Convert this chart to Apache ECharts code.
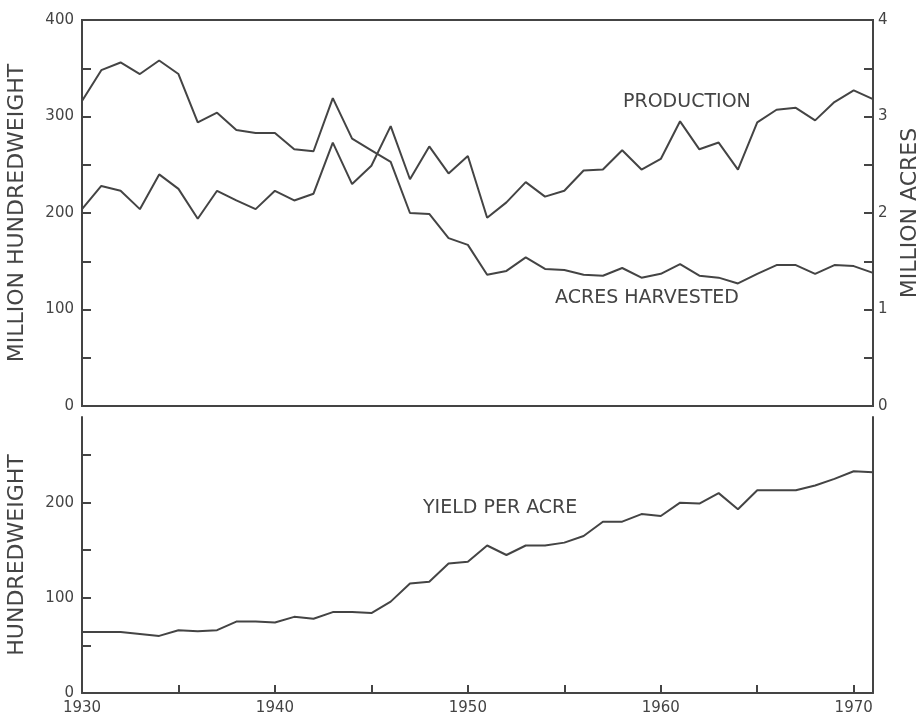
<!DOCTYPE html>
<html>
<head>
<meta charset="utf-8">
<script src="https://cdn.jsdelivr.net/npm/echarts@6/dist/echarts.min.js"></script>
<style>
  html, body { margin: 0; padding: 0; background: #fff; }
  #main { width: 917px; height: 713px; }
</style>
</head>
<body>
<div id="main"></div>
<script>
// potato statistics, 1930-1971
const years = [1930, 1931, 1932, 1933, 1934, 1935, 1936, 1937, 1938, 1939,
  1940, 1941, 1942, 1943, 1944, 1945, 1946, 1947, 1948, 1949,
  1950, 1951, 1952, 1953, 1954, 1955, 1956, 1957, 1958, 1959,
  1960, 1961, 1962, 1963, 1964, 1965, 1966, 1967, 1968, 1969,
  1970, 1971];

// million hundredweight (left axis)
const production = [204, 228, 223, 204, 240, 225, 194, 223, 213, 204,
  223, 213, 220, 273, 230, 249, 290, 235, 269, 241,
  259, 195, 211, 232, 217, 223, 244, 245, 265, 245,
  256, 295, 266, 273, 245, 294, 307, 309, 296, 315,
  327, 318];

// million acres (right axis)
const acresHarvested = [3.16, 3.48, 3.56, 3.44, 3.58, 3.44, 2.94, 3.04, 2.86, 2.83,
  2.83, 2.66, 2.64, 3.19, 2.77, 2.65, 2.53, 2.00, 1.99, 1.74,
  1.67, 1.36, 1.40, 1.54, 1.42, 1.41, 1.36, 1.35, 1.43, 1.33,
  1.37, 1.47, 1.35, 1.33, 1.27, 1.37, 1.46, 1.46, 1.37, 1.46,
  1.45, 1.38];

// hundredweight per acre
const yieldPerAcre = [64, 64, 64, 62, 60, 66, 65, 66, 75, 75,
  74, 80, 78, 85, 85, 84, 96, 115, 117, 136,
  138, 155, 145, 155, 155, 158, 165, 180, 180, 188,
  186, 200, 199, 210, 193, 213, 213, 213, 218, 225,
  233, 232];

// ticks and labels
const yearTicks = [1930, 1935, 1940, 1945, 1950, 1955, 1960, 1965, 1970];
const yearLabels = [1930, 1940, 1950, 1960, 1970];
const yearLabelText = { 1930: "1930", 1940: "1940", 1950: "1950", 1960: "1960", 1970: "1970" };
const cwtTicks = [0, 50, 100, 150, 200, 250, 300, 350, 400];
const cwtLabels = [0, 100, 200, 300, 400];
const acreTicks = [0, 0.5, 1, 1.5, 2, 2.5, 3, 3.5, 4];
const acreLabels = [0, 1, 2, 3, 4];
const yieldTicks = [0, 50, 100, 150, 200, 250];
const yieldLabels = [0, 100, 200];

const ink = "#444";
const font = "DejaVu Sans";

function pairs(vals) {
  return years.map((y, i) => [y, vals[i]]);
}

const myChart = echarts.init(document.getElementById("main"), null, { renderer: "canvas" });

const axisLine = { show: true, lineStyle: { color: ink, width: 2 } };
const labelStyle = { color: ink, fontFamily: font, fontSize: 15 };
const nameStyle = { color: ink, fontFamily: font, fontSize: 22 };

let option = {
  animation: false,
  backgroundColor: "#fff",
  grid: [
    { left: 82, right: 44, top: 20, height: 386, outerBoundsMode: "none", containLabel: false,
      show: true, borderColor: ink, borderWidth: 2, backgroundColor: "transparent" },
    { left: 82, right: 44, top: 417, height: 276, outerBoundsMode: "none", containLabel: false },
  ],
  xAxis: [
    {
      gridIndex: 0, type: "value", min: 1930, max: 1971,
      axisLine: axisLine, axisTick: { show: false }, axisLabel: { show: false }, splitLine: { show: false },
    },
    {
      gridIndex: 1, type: "value", min: 1930, max: 1971,
      axisLine: axisLine,
      axisTick: { show: true, inside: true, length: 8, customValues: yearTicks, lineStyle: { color: ink, width: 2 } },
      axisLabel: Object.assign({ customValues: yearLabels, margin: 8, formatter: (v) => yearLabelText[v] || "" }, labelStyle),
      splitLine: { show: false },
    },
  ],
  yAxis: [
    {
      gridIndex: 0, type: "value", min: 0, max: 400, position: "left",
      name: "MILLION HUNDREDWEIGHT", nameLocation: "middle", nameGap: 54, nameRotate: 90, nameTextStyle: nameStyle,
      axisLine: axisLine,
      axisTick: { show: true, inside: true, length: 9, customValues: cwtTicks, lineStyle: { color: ink, width: 2 } },
      axisLabel: Object.assign({ customValues: cwtLabels, margin: 8 }, labelStyle),
      splitLine: { show: false },
    },
    {
      gridIndex: 0, type: "value", min: 0, max: 4, position: "right",
      name: "MILLION ACRES", nameLocation: "middle", nameGap: 26, nameRotate: 90, nameTextStyle: nameStyle,
      axisLine: axisLine,
      axisTick: { show: true, inside: true, length: 9, customValues: acreTicks, lineStyle: { color: ink, width: 2 } },
      axisLabel: Object.assign({ customValues: acreLabels, margin: 5 }, labelStyle),
      splitLine: { show: false },
    },
    {
      gridIndex: 1, type: "value", min: 0, max: 290, position: "left",
      name: "HUNDREDWEIGHT", nameLocation: "middle", nameGap: 54, nameRotate: 90, nameTextStyle: nameStyle,
      axisLine: axisLine,
      axisTick: { show: true, inside: true, length: 9, customValues: yieldTicks, lineStyle: { color: ink, width: 2 } },
      axisLabel: Object.assign({ customValues: yieldLabels, margin: 8 }, labelStyle),
      splitLine: { show: false },
    },
    {
      gridIndex: 1, type: "value", min: 0, max: 290, position: "right",
      axisLine: axisLine, axisTick: { show: false }, axisLabel: { show: false }, splitLine: { show: false },
    },
  ],
  series: [
    {
      name: "PRODUCTION", type: "line", xAxisIndex: 0, yAxisIndex: 0,
      data: pairs(production), symbol: "none",
      lineStyle: { color: ink, width: 2 },
    },
    {
      name: "ACRES HARVESTED", type: "line", xAxisIndex: 0, yAxisIndex: 1,
      data: pairs(acresHarvested), symbol: "none",
      lineStyle: { color: ink, width: 2 },
    },
    {
      name: "YIELD PER ACRE", type: "line", xAxisIndex: 1, yAxisIndex: 2,
      data: pairs(yieldPerAcre), symbol: "none",
      lineStyle: { color: ink, width: 2 },
    },
  ],
  graphic: [
    { type: "text", left: 623, top: 93, style: { text: "PRODUCTION", fill: ink, font: "19px " + font } },
    { type: "text", left: 555, top: 289, style: { text: "ACRES HARVESTED", fill: ink, font: "19px " + font } },
    { type: "text", left: 423, top: 499, style: { text: "YIELD PER ACRE", fill: ink, font: "19px " + font } },
  ],
};
myChart.setOption(option);
</script>
</body>
</html>
